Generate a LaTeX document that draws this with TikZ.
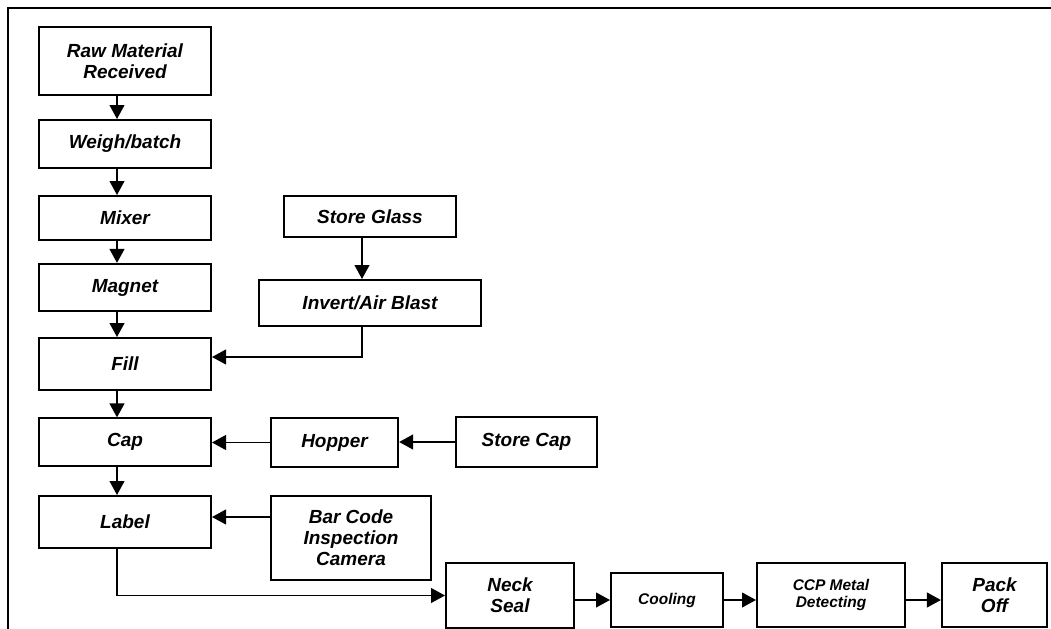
\documentclass[tikz,border=0pt]{standalone}
\usepackage{fontspec}
\setmainfont{Liberation Sans}
\usetikzlibrary{arrows.meta}

\begin{document}
\begin{tikzpicture}[x=0.025cm,y=-0.025cm,
  stage/.style={draw,line width=1.4pt,align=center,inner sep=1pt,
    font=\fontsize{13.5}{15}\selectfont\bfseries\itshape},
  smalltext/.style={font=\fontsize{11}{12.5}\selectfont\bfseries\itshape},
  flow/.style={line width=1.25pt,-{Triangle[length=0.35cm,width=0.37cm]}}]
\path[use as bounding box] (0,0) rectangle (1051,629);
\draw[line width=1.2pt] (8,629) -- (8,8) -- (1051,8);
% main line
\node[stage,minimum width=4.3cm,minimum height=1.7cm] (raw) at (125,61) {Raw Material\\Received};
\node[stage,minimum width=4.3cm,minimum height=1.2cm] (weigh) at (125,144) {Weigh/batch};
\node[stage,minimum width=4.3cm,minimum height=1.1cm] (mixer) at (125,218) {Mixer};
\node[stage,minimum width=4.3cm,minimum height=1.18cm] (magnet) at (125,287.5) {Magnet};
\node[stage,minimum width=4.3cm,minimum height=1.3cm] (fill) at (125,364) {Fill};
\node[stage,minimum width=4.3cm,minimum height=1.18cm] (cap) at (125,442) {Cap};
\node[stage,minimum width=4.3cm,minimum height=1.3cm] (label) at (125,522) {Label};
% side feeds
\node[stage,minimum width=4.3cm,minimum height=1.03cm] (glass) at (370,216.5) {Store Glass};
\node[stage,minimum width=5.55cm,minimum height=1.15cm] (invert) at (370,303) {Invert/Air Blast};
\node[stage,minimum width=3.18cm,minimum height=1.23cm] (hopper) at (334.5,442.5) {Hopper};
\node[stage,minimum width=3.53cm,minimum height=1.25cm] (storecap) at (526.5,442) {Store Cap};
\node[stage,minimum width=4cm,minimum height=2.1cm] (bar) at (351,538) {Bar Code\\Inspection\\Camera};
% bottom row
\node[stage,minimum width=3.2cm,minimum height=1.63cm] (neck) at (510,595.5) {Neck\\Seal};
\node[stage,smalltext,minimum width=2.8cm,minimum height=1.35cm] (cool) at (667,600) {Cooling};
\node[stage,smalltext,minimum width=3.7cm,minimum height=1.6cm] (ccp) at (831,595) {CCP Metal\\Detecting};
\node[stage,minimum width=2.63cm,minimum height=1.6cm] (pack) at (994.5,595) {Pack\\Off};

\foreach \a/\b in {raw/weigh,weigh/mixer,mixer/magnet,magnet/fill,fill/cap,cap/label,glass/invert}
  \draw[flow] ([xshift=-0.2cm]\a.south) -- ([xshift=-0.2cm]\b.north);
\draw[flow] ([xshift=-0.2cm]invert.south) |- ([yshift=0.175cm]fill.east);
\draw[flow] (hopper.west) -- (hopper.west -| cap.east);
\draw[flow] (storecap.west) -- (storecap.west -| hopper.east);
\coordinate (barin) at ([yshift=0.125cm]label.east);
\draw[flow] (bar.west |- barin) -- (barin);
\draw[flow] ([xshift=-0.2cm]label.south) |- (neck.west);
\draw[flow] (neck.east |- cool.west) -- (cool.west);
\draw[flow] (cool.east) -- (cool.east -| ccp.west);
\draw[flow] (ccp.east |- cool.east) -- (pack.west |- cool.east);
\end{tikzpicture}
\end{document}
